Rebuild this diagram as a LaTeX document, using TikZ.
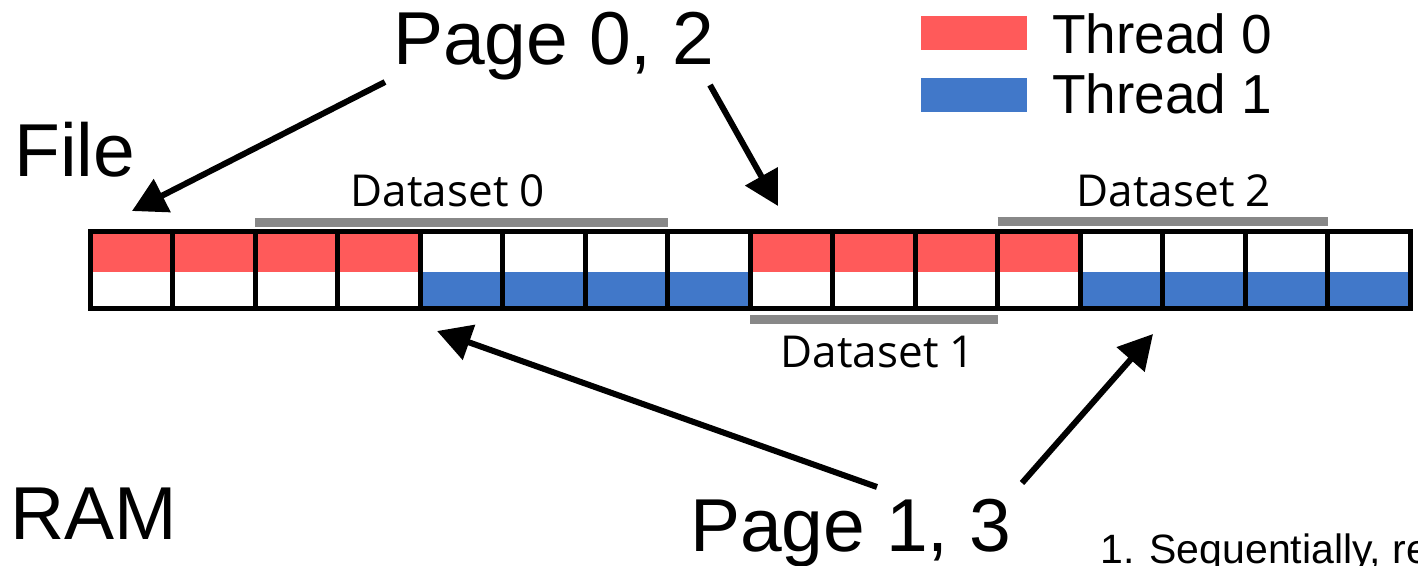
\documentclass[tikz,border=0pt]{standalone}
\usepackage{fontspec}
\setmainfont{Liberation Sans}
\newfontfamily\dsfont{Open Sans}
\usetikzlibrary{arrows.meta}
\definecolor{tred}{HTML}{FF5A5A}
\definecolor{tblue}{HTML}{4178C9}
\definecolor{dsgray}{HTML}{888888}
\begin{document}
\begin{tikzpicture}[x=1pt,y=-1pt,
  big/.style={anchor=base west,inner sep=0pt,font=\fontsize{75}{82}\selectfont},
  legtext/.style={anchor=base west,inner sep=0pt,font=\fontsize{55}{62}\selectfont},
  dslabel/.style={anchor=base,inner sep=0pt,font=\dsfont\fontsize{44}{50}\selectfont},
  note/.style={anchor=base west,inner sep=0pt,font=\fontsize{41}{48}\selectfont},
  cell/.style={draw=black,line width=5pt,minimum width=82.5pt,minimum height=77pt,inner sep=0pt},
  legbox/.style={minimum width=106pt,minimum height=34pt,inner sep=0pt,anchor=north west},
  dsline/.style={draw=dsgray,line width=9pt},
  arr/.style={line width=6pt,-{Triangle[length=34pt,width=36pt]},line join=round}]
\useasboundingbox (0,0) rectangle (1418,565);
% fills
\foreach \i in {1,2,3,4,9,10,11,12}{
  \fill[tred] ({90+82.5*(\i-1)},231) rectangle ++(82.5,41);
}
\foreach \i in {5,6,7,8,13,14,15,16}{
  \fill[tblue] ({90+82.5*(\i-1)},272) rectangle ++(82.5,36);
}
% cell borders
\foreach \i in {1,...,16}{
  \node[cell] (c\i) at ({90+82.5*(\i-0.5)},269.5) {};
}
% dataset bars
\draw[dsline] (255,222) -- (667.5,222);
\draw[dsline] (750,319) -- (997.5,319);
\draw[dsline] (997.5,221) -- (1327.5,221);
\node[dslabel] (d0) at (448,206) {Dataset 0};
\node[dslabel] (d1) at (878,367) {Dataset 1};
\node[dslabel] (d2) at (1174,206) {Dataset 2};
% big labels
\node[big] (p02) at (393,64) {Page 0, 2};
\node[big] (p13) at (690,551) {Page 1, 3};
\node[big] (file) at (14,176) {File};
\node[big] (ram) at (10,539) {RAM};
% legend
\node[legbox,fill=tred] (l0) at (921,16) {};
\node[legbox,fill=tblue] (l1) at (921,78) {};
\node[legtext] (t0) at (1052,53) {Thread 0};
\node[legtext] (t1) at (1052,113) {Thread 1};
% note
\node[note] (n1) at (1100,563) {1. Sequentially, re};
% arrows
\coordinate (a1s) at (385,82);  \coordinate (a1e) at (132,211);
\coordinate (a2s) at (710,85);  \coordinate (a2e) at (778,206);
\coordinate (a3s) at (877,487); \coordinate (a3e) at (437,331);
\coordinate (a4s) at (1022,483); \coordinate (a4e) at (1153,334);
\draw[arr] (a1s) -- (a1e);
\draw[arr] (a2s) -- (a2e);
\draw[arr] (a3s) -- (a3e);
\draw[arr] (a4s) -- (a4e);
\end{tikzpicture}
\end{document}
